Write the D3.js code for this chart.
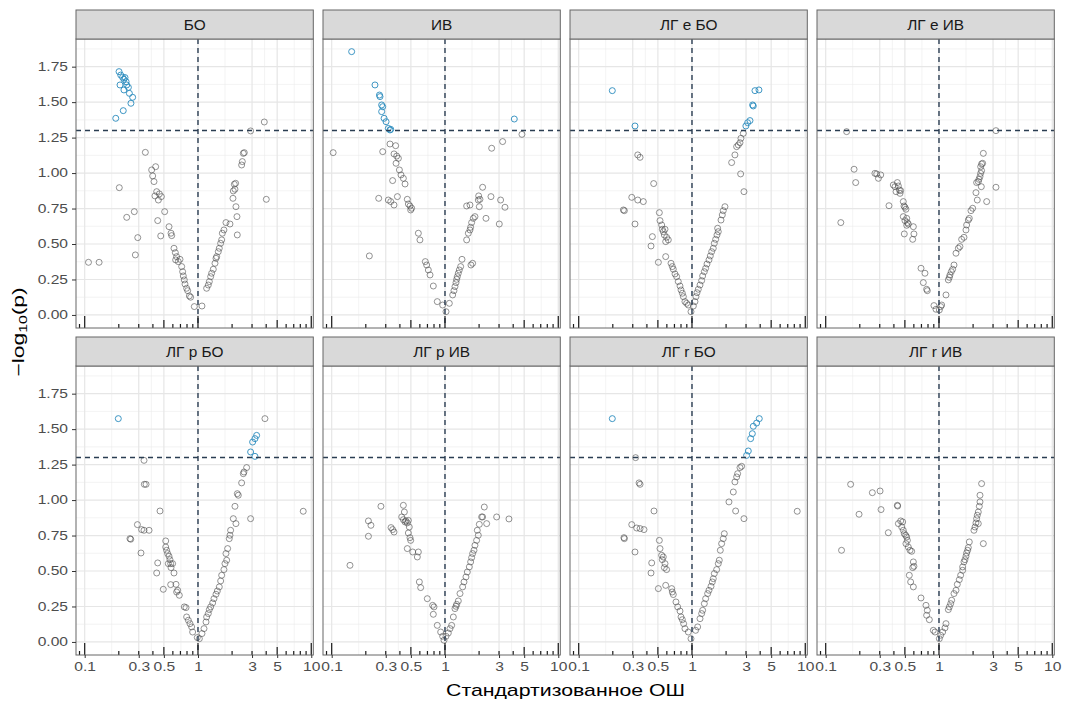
<!DOCTYPE html>
<html><head><meta charset="utf-8">
<script src="https://cdn.jsdelivr.net/npm/d3@7"></script>
<style>body{margin:0;background:#fff}svg{display:block}</style>
</head><body><svg id="c" width="1070" height="702"></svg>
<script>
// ---------- data ----------
const panelNames = ["БО", "ИВ", "ЛГ e БО", "ЛГ e ИВ", "ЛГ p БО", "ЛГ p ИВ", "ЛГ r БО", "ЛГ r ИВ"];
const xTickValues = [0.1, 0.3, 0.5, 1, 3, 5, 10];
const xTickLabels = ["0.1", "0.3", "0.5", "1", "3", "5", "10"];
const yTickValues = [0, 0.25, 0.5, 0.75, 1, 1.25, 1.5, 1.75];
const yTickLabels = ["0.00", "0.25", "0.50", "0.75", "1.00", "1.25", "1.50", "1.75"];
const xTitle = "Стандартизованное ОШ";
const pThreshold = 1.3;

// БО
const orBO_hi = [0.201,0.208,0.216,0.222,0.227,0.232,0.205,0.235,0.222,0.243,0.248,0.265,0.256,0.219,0.188];
const lpBO_hi = [1.715,1.691,1.675,1.661,1.673,1.644,1.621,1.621,1.586,1.604,1.562,1.534,1.492,1.440,1.386];
const orBO = [0.108,0.134,0.202,0.235,0.274,0.294,0.280,0.343,0.390,0.398,0.409,0.423,0.417,0.432,0.456,0.475,0.447,0.441,0.508,0.469,0.555,0.578,0.586,0.614,0.631,0.648,0.635,0.670,0.694,0.718,0.732,0.742,0.757,0.768,0.794,0.811,0.839,0.861,0.928,1.084,1.192,1.233,1.259,1.294,1.320,1.365,1.413,1.442,1.462,1.511,1.542,1.585,1.618,1.640,1.695,1.766,1.916,2.036,2.050,2.093,2.149,2.120,2.163,2.208,2.223,2.428,2.462,2.512,2.564,2.915,3.848,4.008];
const lpBO = [0.371,0.371,0.897,0.688,0.728,0.545,0.423,1.146,1.022,0.980,0.940,1.045,0.839,0.869,0.853,0.834,0.810,0.665,0.728,0.557,0.622,0.576,0.559,0.470,0.439,0.411,0.388,0.376,0.392,0.341,0.305,0.275,0.247,0.218,0.188,0.171,0.134,0.125,0.059,0.063,0.188,0.211,0.235,0.270,0.294,0.322,0.364,0.399,0.411,0.446,0.470,0.505,0.529,0.576,0.599,0.651,0.641,0.822,0.874,0.921,0.928,0.886,0.763,0.693,0.564,1.057,1.081,1.139,1.144,1.297,1.360,0.815];

// ИВ
const orIV_hi = [0.150,0.241,0.264,0.267,0.276,0.282,0.276,0.290,0.302,0.316,0.327,0.332,4.09];
const lpIV_hi = [1.856,1.621,1.550,1.539,1.480,1.468,1.433,1.386,1.362,1.315,1.304,1.308,1.381];
const orIV = [4.78,0.103,0.215,0.282,0.327,0.367,0.355,0.375,0.388,0.370,0.396,0.409,0.429,0.444,0.345,0.260,0.316,0.332,0.355,0.380,0.465,0.475,0.491,0.508,0.498,0.582,0.601,0.670,0.689,0.713,0.738,0.789,0.855,0.954,1.021,1.092,1.169,1.200,1.225,1.251,1.268,1.285,1.311,1.338,1.375,1.413,1.695,1.754,1.553,1.607,1.662,1.684,1.719,1.778,1.839,1.553,1.662,1.968,2.009,2.036,2.149,1.983,2.301,2.546,2.582,3.015,3.097,3.227,3.384];
const lpIV = [1.273,1.144,0.416,1.151,1.205,1.193,1.135,1.120,1.104,1.069,1.022,0.987,0.963,0.923,0.947,0.822,0.810,0.799,0.775,0.834,0.815,0.782,0.768,0.752,0.740,0.576,0.529,0.376,0.352,0.317,0.282,0.204,0.094,0.070,0.023,0.082,0.141,0.171,0.200,0.228,0.251,0.270,0.294,0.317,0.341,0.392,0.352,0.364,0.529,0.576,0.599,0.618,0.651,0.681,0.693,0.768,0.775,0.810,0.763,0.815,0.900,0.839,0.681,0.834,1.175,0.641,0.810,1.222,0.759];

// ЛГ e БО
const orEBO_hi = [0.198,0.314,3.597,3.90,3.476,3.43,3.25,3.10,2.99];
const lpEBO_hi = [1.581,1.332,1.581,1.586,1.473,1.480,1.370,1.355,1.332];
const orEBO = [0.332,0.348,0.459,0.294,0.332,0.372,0.248,0.253,0.314,0.515,0.522,0.540,0.547,0.558,0.578,0.570,0.597,0.618,0.586,0.447,0.435,0.505,0.586,0.653,0.670,0.684,0.708,0.732,0.757,0.784,0.800,0.822,0.839,0.867,0.897,0.928,0.980,1.028,1.062,1.084,1.107,1.137,1.177,1.217,1.242,1.285,1.320,1.357,1.413,1.451,1.492,1.542,1.574,1.618,1.662,1.707,1.684,1.803,1.852,1.888,1.954,2.239,2.393,2.478,2.564,2.653,2.704,2.838,2.688,2.876];
const lpEBO = [1.128,1.111,0.926,0.829,0.810,0.799,0.740,0.735,0.641,0.721,0.665,0.634,0.604,0.587,0.604,0.564,0.547,0.529,0.517,0.552,0.486,0.371,0.411,0.364,0.341,0.322,0.289,0.270,0.235,0.204,0.176,0.153,0.129,0.094,0.082,0.070,0.023,0.063,0.094,0.129,0.157,0.181,0.211,0.242,0.275,0.305,0.329,0.359,0.388,0.416,0.446,0.470,0.505,0.533,0.564,0.587,0.611,0.669,0.705,0.735,0.763,1.074,1.128,1.186,1.198,1.214,1.245,1.280,0.994,0.869];

// ЛГ e ИВ
const orEIV_hi = [];
const lpEIV_hi = [];
const orEIV = [0.153,3.184,0.178,0.184,0.136,0.272,0.282,0.292,0.306,0.362,0.395,0.409,0.429,0.438,0.418,0.447,0.459,0.453,0.484,0.491,0.501,0.511,0.484,0.519,0.501,0.526,0.536,0.519,0.594,0.494,0.601,0.586,0.694,0.752,0.727,0.778,0.789,0.903,0.941,1.007,1.035,1.056,1.153,1.209,1.234,1.250,1.285,1.320,1.357,1.413,1.482,1.531,1.585,1.662,1.730,1.754,1.815,1.852,1.916,1.983,2.120,2.178,2.149,2.223,2.253,2.301,2.333,2.378,2.428,2.462,2.378,2.333,2.364,2.636,3.184];
const lpEIV = [1.292,1.299,1.027,0.933,0.651,0.998,0.994,0.963,0.987,0.770,0.916,0.904,0.933,0.909,0.869,0.881,0.876,0.857,0.799,0.768,0.759,0.745,0.693,0.681,0.665,0.651,0.641,0.632,0.622,0.571,0.571,0.533,0.329,0.294,0.228,0.181,0.171,0.066,0.040,0.035,0.059,0.070,0.141,0.247,0.265,0.282,0.305,0.322,0.352,0.435,0.470,0.482,0.533,0.547,0.599,0.634,0.669,0.681,0.735,0.752,0.862,0.810,0.933,0.940,0.956,0.975,0.998,1.017,1.069,1.139,1.064,1.045,0.904,0.799,0.900];

// ЛГ p БО
const orPBO_hi = [0.198,2.915,3.035,3.184,3.294,3.184];
const lpPBO_hi = [1.574,1.339,1.409,1.433,1.456,1.308];
const orPBO = [3.90,0.334,0.336,0.348,0.462,0.292,0.318,0.334,0.370,0.251,0.255,0.314,0.441,0.519,0.519,0.529,0.540,0.555,0.566,0.574,0.547,0.578,0.597,0.614,0.432,0.494,0.574,0.640,0.662,0.684,0.648,0.757,0.784,0.794,0.822,0.850,0.879,0.897,0.986,1.028,1.084,1.130,1.177,1.192,1.233,1.259,1.294,1.347,1.384,1.442,1.482,1.542,1.585,1.618,1.695,1.730,1.791,1.766,1.827,1.888,1.916,1.941,2.050,2.163,2.120,2.269,2.223,2.428,2.512,2.546,2.688,2.915,8.49];
const lpPBO = [1.574,1.280,1.111,1.111,0.923,0.827,0.792,0.787,0.787,0.728,0.724,0.627,0.557,0.712,0.669,0.646,0.623,0.604,0.580,0.552,0.552,0.524,0.552,0.486,0.486,0.371,0.404,0.406,0.364,0.329,0.352,0.247,0.242,0.176,0.153,0.129,0.106,0.070,0.031,0.023,0.059,0.094,0.141,0.176,0.200,0.228,0.247,0.275,0.305,0.336,0.359,0.388,0.430,0.470,0.510,0.552,0.576,0.623,0.658,0.728,0.752,0.787,0.869,0.834,0.956,1.034,1.045,1.121,1.186,1.198,1.229,0.869,0.921];

// ЛГ p ИВ
const orPIV_hi = [];
const lpPIV_hi = [];
const orPIV = [0.145,0.211,0.222,0.211,0.272,0.334,0.345,0.355,0.429,0.438,0.415,0.429,0.444,0.453,0.465,0.475,0.484,0.475,0.491,0.498,0.465,0.519,0.582,0.570,0.594,0.610,0.698,0.778,0.800,0.789,0.855,0.916,0.954,0.980,1.021,1.070,1.107,1.145,1.185,1.225,1.251,1.268,1.311,1.357,1.432,1.472,1.531,1.574,1.640,1.684,1.719,1.754,1.803,1.839,1.902,1.968,1.928,2.009,2.107,2.149,2.223,2.333,2.858,3.670];
const lpPIV = [0.540,0.853,0.822,0.745,0.956,0.806,0.792,0.775,0.963,0.916,0.881,0.862,0.846,0.853,0.839,0.857,0.810,0.768,0.735,0.716,0.658,0.634,0.634,0.599,0.423,0.383,0.305,0.258,0.247,0.195,0.117,0.070,0.040,0.012,0.040,0.063,0.094,0.117,0.176,0.235,0.251,0.265,0.289,0.341,0.388,0.423,0.458,0.493,0.529,0.564,0.594,0.623,0.646,0.681,0.716,0.752,0.787,0.829,0.881,0.881,0.951,0.834,0.881,0.867];

// ЛГ r БО
const orRBO_hi = [0.198,3.035,3.141,3.294,3.408,3.476,3.721,3.926];
const lpRBO_hi = [1.574,1.315,1.346,1.433,1.468,1.520,1.543,1.574];
const orRBO = [0.318,0.341,0.348,0.462,0.294,0.325,0.348,0.377,0.251,0.253,0.314,0.441,0.435,0.515,0.522,0.540,0.547,0.558,0.578,0.570,0.597,0.586,0.505,0.662,0.670,0.684,0.722,0.748,0.784,0.800,0.822,0.844,0.867,0.928,0.980,1.077,1.122,1.177,1.217,1.242,1.285,1.320,1.375,1.413,1.472,1.511,1.542,1.574,1.651,1.707,1.742,1.778,1.827,1.928,1.888,2.120,2.316,2.393,2.478,2.529,2.653,2.742,2.428,2.876,8.49];
const lpRBO = [1.299,1.121,1.111,0.923,0.827,0.803,0.799,0.792,0.735,0.728,0.634,0.557,0.486,0.716,0.658,0.611,0.580,0.599,0.552,0.524,0.510,0.399,0.376,0.376,0.352,0.334,0.282,0.247,0.218,0.176,0.157,0.129,0.094,0.070,0.023,0.082,0.106,0.164,0.200,0.223,0.270,0.305,0.341,0.364,0.392,0.423,0.446,0.482,0.510,0.552,0.576,0.646,0.693,0.763,0.728,0.987,1.057,1.128,1.163,1.186,1.229,1.238,0.923,0.869,0.921];

// ЛГ r ИВ
const orRIV_hi = [];
const lpRIV_hi = [];
const orRIV = [0.138,0.166,0.197,0.258,0.302,0.308,0.357,0.429,0.432,0.438,0.459,0.478,0.469,0.484,0.494,0.508,0.519,0.526,0.511,0.536,0.555,0.574,0.594,0.586,0.601,0.547,0.562,0.594,0.694,0.768,0.789,0.778,0.822,0.891,0.922,1.007,1.035,1.077,1.130,1.153,1.209,1.234,1.268,1.294,1.357,1.413,1.451,1.511,1.553,1.618,1.618,1.662,1.695,1.754,1.791,1.815,1.852,1.730,2.036,2.080,2.120,2.149,2.178,2.223,2.269,2.301,2.301,2.378,2.223,2.462];
const lpRIV = [0.646,1.111,0.900,1.052,1.064,0.933,0.770,0.963,0.958,0.834,0.853,0.846,0.810,0.787,0.763,0.752,0.740,0.716,0.693,0.669,0.646,0.639,0.564,0.524,0.533,0.470,0.423,0.388,0.310,0.258,0.223,0.188,0.157,0.082,0.070,0.023,0.047,0.070,0.099,0.129,0.228,0.247,0.270,0.294,0.341,0.364,0.406,0.439,0.470,0.505,0.529,0.564,0.580,0.627,0.646,0.665,0.705,0.604,0.787,0.810,0.839,0.869,0.893,0.916,0.956,0.987,1.034,1.116,0.834,0.693];

// ---------- table built from the arrays ----------
const panels = [
  [orBO, lpBO, orBO_hi, lpBO_hi],
  [orIV, lpIV, orIV_hi, lpIV_hi],
  [orEBO, lpEBO, orEBO_hi, lpEBO_hi],
  [orEIV, lpEIV, orEIV_hi, lpEIV_hi],
  [orPBO, lpPBO, orPBO_hi, lpPBO_hi],
  [orPIV, lpPIV, orPIV_hi, lpPIV_hi],
  [orRBO, lpRBO, orRBO_hi, lpRBO_hi],
  [orRIV, lpRIV, orRIV_hi, lpRIV_hi]
].map((a, i) => ({
  name: panelNames[i],
  pts: a[0].map((v, j) => ({or: v, lp: a[1][j], hi: false}))
        .concat(a[2].map((v, j) => ({or: v, lp: a[3][j], hi: true})))
}));

// ---------- layout ----------
const FONT = "'Liberation Sans', Arial, Helvetica, sans-serif";
const colX = [76, 323, 570, 817];
const pw = 237.3, ph = 289, stripH = 29;
const stripTop = [10, 337];
const xDomain = [0.0838, 10.42];
const yDomain = [-0.092, 1.945];
const SX = 1.3; // horizontal text stretch of the reference

const svg = d3.select("#c");
svg.append("rect").attr("width", 1070).attr("height", 702).attr("fill", "#fff");

const xMinor = d3.pairs(xTickValues).map(([a, b]) => Math.sqrt(a * b));
const yMinor = d3.range(-0.125, 2.0, 0.25).filter(v => v > yDomain[0] && v < yDomain[1]);
const logTicks = [];
[0.01, 0.1, 1, 10].forEach(d => d3.range(1, 10).forEach(k => {
  const v = k * d;
  if (v >= xDomain[0] && v <= xDomain[1]) logTicks.push({v, k});
}));

function stretch(sel, sx) {
  sel.each(function () {
    const t = d3.select(this);
    const x = +t.attr("x") || 0;
    t.attr("x", x / sx).attr("transform", `scale(${sx},1)`);
  });
}

panels.forEach((p, i) => {
  const col = i % 4, row = Math.floor(i / 4);
  const x0 = colX[col], st = stripTop[row], y0 = st + stripH, y1 = y0 + ph;
  const x = d3.scaleLog().domain(xDomain).range([x0, x0 + pw]);
  const y = d3.scaleLinear().domain(yDomain).range([y1, y0]);
  const g = svg.append("g");

  g.append("rect").attr("x", x0).attr("y", y0).attr("width", pw).attr("height", ph).attr("fill", "#fff");
  const clipId = "clip" + i;
  g.append("clipPath").attr("id", clipId).append("rect")
    .attr("x", x0).attr("y", y0).attr("width", pw).attr("height", ph);
  const pg = g.append("g").attr("clip-path", `url(#${clipId})`);

  // grid
  pg.selectAll(".gxm").data(xMinor).join("line")
    .attr("x1", d => x(d)).attr("x2", d => x(d)).attr("y1", y0).attr("y2", y1)
    .attr("stroke", "#ebebeb").attr("stroke-width", 0.6);
  pg.selectAll(".gym").data(yMinor).join("line")
    .attr("y1", d => y(d)).attr("y2", d => y(d)).attr("x1", x0).attr("x2", x0 + pw)
    .attr("stroke", "#ebebeb").attr("stroke-width", 0.6);
  pg.selectAll(".gx").data(xTickValues).join("line")
    .attr("x1", d => x(d)).attr("x2", d => x(d)).attr("y1", y0).attr("y2", y1)
    .attr("stroke", "#e6e6e6").attr("stroke-width", 1.2);
  pg.selectAll(".gy").data(yTickValues).join("line")
    .attr("y1", d => y(d)).attr("y2", d => y(d)).attr("x1", x0).attr("x2", x0 + pw)
    .attr("stroke", "#e6e6e6").attr("stroke-width", 1.2);

  // points
  pg.selectAll(".pt").data(p.pts).join("circle")
    .attr("cx", d => x(d.or)).attr("cy", d => y(d.lp)).attr("r", 3)
    .attr("fill", "none")
    .attr("stroke", d => d.hi ? "#2b8cbe" : "#4d4d4d")
    .attr("stroke-opacity", d => d.hi ? 0.9 : 0.6)
    .attr("stroke-width", 1);

  // reference lines
  pg.append("line").attr("x1", x0).attr("x2", x0 + pw).attr("y1", y(pThreshold)).attr("y2", y(pThreshold))
    .attr("stroke", "#2a3d52").attr("stroke-width", 1.4).attr("stroke-dasharray", "5,4");
  pg.append("line").attr("x1", x(1)).attr("x2", x(1)).attr("y1", y0).attr("y2", y1)
    .attr("stroke", "#2a3d52").attr("stroke-width", 1.4).attr("stroke-dasharray", "5,4");

  // log ticks (bottom)
  pg.selectAll(".lt").data(logTicks).join("line")
    .attr("x1", d => x(d.v)).attr("x2", d => x(d.v))
    .attr("y1", y1).attr("y2", d => y1 - (d.k === 1 ? 12 : d.k === 5 ? 8 : 4))
    .attr("stroke", "#1a1a1a").attr("stroke-width", 1.2);

  // border
  g.append("rect").attr("x", x0).attr("y", y0).attr("width", pw).attr("height", ph)
    .attr("fill", "none").attr("stroke", "#666").attr("stroke-width", 1);

  // strip
  g.append("rect").attr("x", x0).attr("y", st).attr("width", pw).attr("height", stripH)
    .attr("fill", "#d9d9d9").attr("stroke", "#666").attr("stroke-width", 1);
  g.append("text")
    .attr("transform", `translate(${x0 + pw / 2},${st + stripH / 2 + 5}) scale(1.1,1)`)
    .attr("text-anchor", "middle").attr("font-family", FONT).attr("font-size", 14)
    .attr("fill", "#1a1a1a").text(p.name);

  // axes
  if (col === 0) {
    const ax = g.append("g").attr("transform", `translate(${x0},0)`)
      .call(d3.axisLeft(y).tickValues(yTickValues).tickFormat((d, j) => yTickLabels[j]).tickSize(4).tickPadding(4));
    ax.select(".domain").remove();
    ax.selectAll("line").attr("stroke", "#333").attr("stroke-width", 1);
    ax.selectAll("text").attr("font-family", FONT).attr("font-size", 12).attr("fill", "#4d4d4d");
    stretch(ax.selectAll("text"), SX);
  }
  if (row === 1) {
    const ax = g.append("g").attr("transform", `translate(0,${y1})`)
      .call(d3.axisBottom(x).tickValues(xTickValues).tickFormat((d, j) => xTickLabels[j]).tickSize(3).tickPadding(4));
    ax.select(".domain").remove();
    ax.selectAll("line").attr("stroke", "#333").attr("stroke-width", 1);
    ax.selectAll("text").attr("font-family", FONT).attr("font-size", 12).attr("fill", "#4d4d4d");
    stretch(ax.selectAll("text"), SX);
  }
});

// axis titles
svg.append("text")
  .attr("transform", `translate(565.5,696) scale(1.33,1)`)
  .attr("text-anchor", "middle").attr("font-family", FONT).attr("font-size", 16).attr("fill", "#000")
  .text(xTitle);
const yt = svg.append("text")
  .attr("transform", `translate(24,332) rotate(-90) scale(1.43,1)`)
  .attr("text-anchor", "middle").attr("font-family", FONT).attr("font-size", 16).attr("fill", "#000");
yt.append("tspan").text("−log");
yt.append("tspan").attr("font-size", 11).attr("dy", 3).text("10");
yt.append("tspan").attr("dy", -3).text("(p)");
</script>
</body></html>
